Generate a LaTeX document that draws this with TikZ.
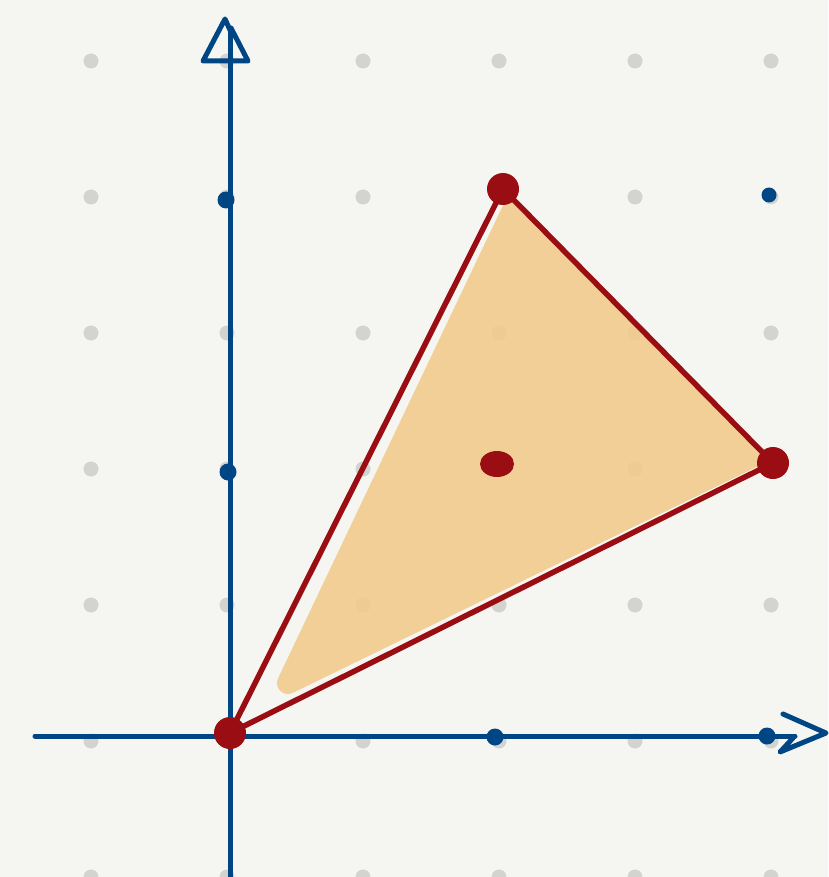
\documentclass[tikz,border=0pt]{standalone}
\usetikzlibrary{shapes.geometric}
\begin{document}
\begin{tikzpicture}[x=1pt,y=-1pt,
  gdot/.style={fill=gridgray,draw=none},
  axis/.style={draw=axblue,line width=5pt,line cap=round,line join=round},
  edge/.style={draw=ptred,line width=5.5pt,line cap=round},
  redpt/.style={circle,fill=ptred,minimum size=32pt,inner sep=0pt},
  bluept/.style={circle,fill=axblue,minimum size=17pt,inner sep=0pt},
  shade/.style={fill=fillor,draw=fillor,line width=22pt,line join=round}]
\definecolor{bg}{HTML}{F5F6F1}
\definecolor{gridgray}{HTML}{D3D3CF}
\definecolor{axblue}{HTML}{004584}
\definecolor{ptred}{HTML}{9A0D12}
\definecolor{fillor}{HTML}{F2CA8A}
\fill[bg] (0,0) rectangle (828,877);
\useasboundingbox (0,0) rectangle (828,877);
% grid dots
\foreach \gx in {91,227,363,499,635,771}{
  \foreach \gy in {61,197,333,469,605,741,877}{
    \fill[gdot] (\gx,\gy) circle (7.5);
  }
}
% coordinates
\coordinate (O) at (230,733);
\coordinate (A) at (503,189);
\coordinate (B) at (773,463);
% fill
\begin{scope}[transparency group,opacity=0.88]
\path[shade] (288,683) -- (512,212) -- (752,457) -- cycle;
\end{scope}
% axes
\coordinate (ybot) at (230,877);
\coordinate (ytop) at (230,30);
\coordinate (ytip) at (225,19);
\coordinate (yl) at (203,61);
\coordinate (yr) at (248,61);
\draw[axis] (ybot) -- (ytop);
\draw[axis] (ytop) -- (ytip) -- (yl) -- (yr) -- (231,28);
\coordinate (xl) at (35,736);
\coordinate (xr) at (795,736);
\coordinate (xtip) at (826,733);
\coordinate (xt) at (783,714);
\coordinate (xb) at (780,752);
\draw[axis] (xl) -- (xr);
\draw[axis] (xt) -- (xtip) -- (xb) -- (793,738);
% triangle edges
\draw[edge] (O) -- (A) -- (B) -- cycle;
% points
\node[bluept] (b1) at (226,200) {};
\node[bluept] (b2) at (228,472) {};
\node[bluept] (b3) at (495,737) {};
\node[bluept] (b4) at (767,736) {};
\node[bluept,minimum size=15pt] (b5) at (769,195) {};
\node[redpt] (pO) at (O) {};
\node[redpt] (pA) at (A) {};
\node[redpt] (pB) at (B) {};
\node[redpt,ellipse,minimum width=34pt,minimum height=26pt] (pC) at (497,464) {};
\end{tikzpicture}
\end{document}
